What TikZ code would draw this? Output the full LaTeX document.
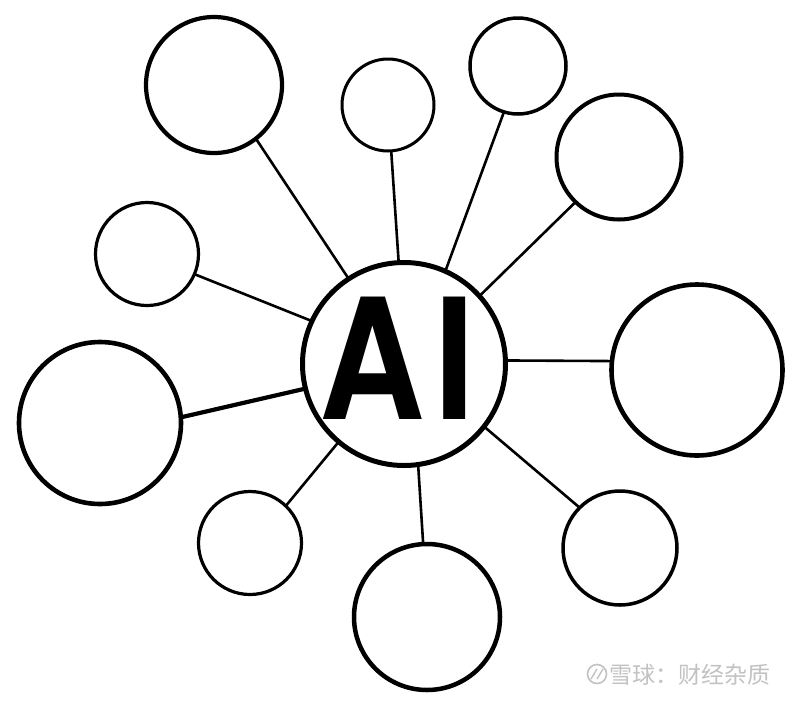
\documentclass[tikz,border=0pt]{standalone}
\usepackage{fontspec}
\setmainfont{Liberation Sans}
\newfontfamily\aifont{texgyreheros-bold.otf}
\newfontfamily\cjk{Noto Sans CJK SC}
\usepackage{graphicx}
\begin{document}
\begin{tikzpicture}[x=1pt,y=-1pt,
  bub/.style={circle,draw=black,fill=white,inner sep=0pt,outer sep=0pt,minimum size=#1},
  link/.style={draw=black,line width=2.6pt},
  wm/.style={text=black!24},
]
\useasboundingbox (0,0) rectangle (800,702);
\fill[white] (0,0) rectangle (800,702);

\node[bub=203pt, line width=5pt]   (ai) at (404,364) {};
\node[bub=136pt, line width=4.2pt] (tl) at (214,85) {};
\node[bub=103pt, line width=3.2pt] (ls) at (147,254) {};
\node[bub=92pt,  line width=3pt]   (tm) at (388,105) {};
\node[bub=96pt,  line width=3.5pt] (tr) at (518,66) {};
\node[bub=125pt, line width=4pt]   (ru) at (619,157) {};
\node[bub=171pt, line width=4.6pt] (rb) at (697,370) {};
\node[bub=114pt, line width=3.5pt] (br) at (620,548) {};
\node[bub=146pt, line width=4.5pt] (bm) at (427,617) {};
\node[bub=103pt, line width=3.2pt] (bl) at (250,543) {};
\node[bub=162pt, line width=4.6pt] (lb) at (100,423) {};

\node[inner sep=0pt,anchor=center] (ailabel) at (397.5,358)
  {\aifont\fontsize{168}{168}\selectfont\scalebox{0.87}[1]{A\kern0.065em I}};

\draw[link] (tl.-52.3) -- (ai.123.2);
\draw[link] (ls.-23.7) -- (ai.155.9);
\draw[link] (tm.-86.6) -- (ai.93.9);
\draw[link] (tr.-107) -- (ai.66.1);
\draw[link] (ru.-134.4) -- (ai.42.2);
\draw[link] (rb.174.7) -- (ai.2.2);
\draw[link] (br.135.7) -- (ai.-38.7);
\draw[link] (bm.93.9) -- (ai.-82.8);
\draw[link] (bl.46.5) -- (ai.-130.4);
\draw[link,line width=4.2pt] (lb.4.8) -- (ai.-166.2);

% watermark
\node[circle,draw=black!24,line width=1.6pt,minimum size=19pt,inner sep=0pt] (logo) at (597,674) {};
\draw[black!24,line width=1.4pt] (591,679) -- (597,669) (597,679) -- (603,669);
\node[wm,anchor=west,inner sep=0pt] (wmtext) at (609,675) {\cjk\fontsize{23}{23}\selectfont 雪球：财经杂质};
\end{tikzpicture}
\end{document}
